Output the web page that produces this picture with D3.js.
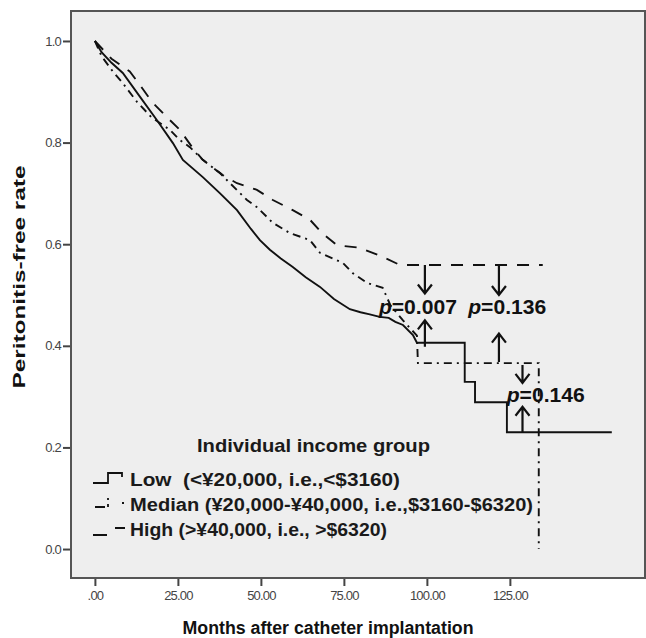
<!DOCTYPE html>
<html>
<head>
<meta charset="utf-8">
<script src="https://cdn.jsdelivr.net/npm/d3@7"></script>
<style>
  body { margin: 0; background: #ffffff; }
  svg { display: block; font-family: 'Liberation Sans', Arial, sans-serif; }
</style>
</head>
<body>
<div id="chart"></div>
<script>
// kaplan-meier curves (months, peritonitis-free rate)
var lowMonths = [0, 2, 5, 8.4, 13.6, 18.7, 23.5, 26.5, 32.5, 37.7, 42.8, 47, 49.7, 52.7, 56, 59.6, 63.5, 67.8, 72, 76.8, 80, 82.8, 85.8, 88.5, 90.5, 92.8, 95.8, 97, 111.4, 111.4, 114.5, 114.5, 124.1, 124.1, 155.7];
var lowRates = [1.0, 0.978, 0.957, 0.937, 0.89, 0.844, 0.799, 0.766, 0.732, 0.70, 0.667, 0.63, 0.608, 0.589, 0.572, 0.555, 0.535, 0.516, 0.492, 0.472, 0.466, 0.462, 0.457, 0.455, 0.447, 0.441, 0.421, 0.406, 0.406, 0.329, 0.329, 0.289, 0.289, 0.23, 0.23];

var medMonths = [0, 2, 5.4, 8.4, 12.7, 17, 22.6, 25.6, 28.6, 32.5, 37.7, 40.7, 45.8, 48.8, 53.6, 58.7, 64.8, 67.8, 74.7, 77.7, 81.9, 86.7, 89, 92.8, 97, 97.3, 133.7, 133.7];
var medRates = [1.0, 0.97, 0.94, 0.917, 0.88, 0.85, 0.825, 0.805, 0.791, 0.766, 0.74, 0.72, 0.687, 0.673, 0.642, 0.622, 0.608, 0.583, 0.563, 0.543, 0.524, 0.514, 0.48, 0.45, 0.42, 0.366, 0.366, 0.0];

var highMonths = [0, 5, 10.5, 13.6, 17.2, 21.7, 25.6, 29.5, 32.5, 38.5, 42.8, 48.8, 53.6, 59.6, 64.8, 68.4, 72.9, 79.8, 86.7, 91.9, 134.9];
var highRates = [1.0, 0.965, 0.94, 0.913, 0.88, 0.85, 0.825, 0.789, 0.766, 0.736, 0.72, 0.707, 0.687, 0.667, 0.648, 0.622, 0.598, 0.593, 0.575, 0.559, 0.559];

var groupNames = ['Low\u00a0\u00a0(<¥20,000, i.e.,<$3160)', 'Median (¥20,000-¥40,000, i.e.,$3160-$6320)', 'High (>¥40,000, i.e., >$6320)'];
var xTicks = [0, 25, 50, 75, 100, 125];
var yTicks = [0.0, 0.2, 0.4, 0.6, 0.8, 1.0];

// log-rank p values with arrow ends (month, rate)
var pLabels = ['0.007', '0.136', '0.146'];
var pTextMonth = [97.3, 124.2, 135.8];
var pTextRate = [0.476, 0.476, 0.303];
var arrowMonth = [99.4, 121.7, 128.8];
var downFrom = [0.559, 0.559, 0.362];
var downTo = [0.503, 0.5, 0.327];
var upFrom = [0.398, 0.368, 0.23];
var upTo = [0.45, 0.424, 0.28];

// svg container
var svgWidth = 646;
var svgHeight = 638;

var frame = { left: 71, right: 645, top: 11, bottom: 578 };

var svg = d3.select('#chart').append('svg')
    .attr('width', svgWidth)
    .attr('height', svgHeight);

var xscale = d3.scaleLinear()
    .domain([-7.2, 165.7])
    .range([frame.left, frame.right]);

var yscale = d3.scaleLinear()
    .domain([-0.057, 1.059])
    .range([frame.bottom, frame.top]);

// plot background
svg.append('rect')
    .attr('x', frame.left)
    .attr('y', frame.top)
    .attr('width', frame.right - frame.left)
    .attr('height', frame.bottom - frame.top)
    .attr('fill', '#eeeeee');

// axes
var leftaxis = d3.axisLeft(yscale)
    .tickValues(yTicks)
    .tickSize(8)
    .tickPadding(2)
    .tickFormat(d3.format('.1f'));

var bottomaxis = d3.axisBottom(xscale)
    .tickValues(xTicks)
    .tickSize(8)
    .tickPadding(5)
    .tickFormat(d => d === 0 ? '.00' : d.toFixed(2));

var yAxisG = svg.append('g')
    .attr('transform', `translate(${frame.left}, 0)`)
    .call(leftaxis);

var xAxisG = svg.append('g')
    .attr('transform', `translate(0, ${frame.bottom})`)
    .call(bottomaxis);

[yAxisG, xAxisG].forEach(function (g) {
    g.select('.domain').remove();
    g.selectAll('.tick line').attr('stroke', '#444').attr('stroke-width', 2);
    g.selectAll('.tick text')
        .attr('fill', '#444')
        .style('font-size', '13px')
        .style('letter-spacing', '-0.8px');
});

// frame
svg.append('rect')
    .attr('x', frame.left)
    .attr('y', frame.top)
    .attr('width', frame.right - frame.left)
    .attr('height', frame.bottom - frame.top)
    .attr('fill', 'none')
    .attr('stroke', '#555')
    .attr('stroke-width', 2);

// curves
var series = [
    { months: lowMonths, rates: lowRates, dash: null },
    { months: medMonths, rates: medRates, dash: '8,5,2,5' },
    { months: highMonths, rates: highRates, dash: '12,10' }
];

var line = d3.line()
    .x(d => xscale(d[0]))
    .y(d => yscale(d[1]));

series.forEach(function (s) {
    svg.append('path')
        .datum(s.months.map((m, i) => [m, s.rates[i]]))
        .attr('d', line)
        .attr('fill', 'none')
        .attr('stroke', '#111')
        .attr('stroke-width', 1.9)
        .attr('stroke-dasharray', s.dash);
});

// arrows
function arrow(x, y1, y2) {
    var px = xscale(x), p1 = yscale(y1), p2 = yscale(y2);
    var dir = p2 > p1 ? 1 : -1;
    svg.append('path')
        .attr('d', `M${px},${p1}L${px},${p2}M${px - 7},${p2 - dir * 9}L${px},${p2}L${px + 7},${p2 - dir * 9}`)
        .attr('fill', 'none')
        .attr('stroke', '#111')
        .attr('stroke-width', 2.2);
}

pLabels.forEach(function (p, i) {
    arrow(arrowMonth[i], downFrom[i], downTo[i]);
    arrow(arrowMonth[i], upFrom[i], upTo[i]);

    var t = svg.append('text')
        .attr('x', xscale(pTextMonth[i]))
        .attr('y', yscale(pTextRate[i]))
        .attr('dy', '0.36em')
        .attr('text-anchor', 'middle')
        .style('font-size', '20px')
        .style('font-weight', 'bold')
        .attr('fill', '#111')
        .attr('textLength', 78)
        .attr('lengthAdjust', 'spacingAndGlyphs');
    t.append('tspan').style('font-style', 'italic').text('p');
    t.append('tspan').text('=' + p);
});

// legend
svg.append('text')
    .attr('x', 197)
    .attr('y', 445)
    .attr('dy', '0.35em')
    .attr('textLength', 233)
    .attr('lengthAdjust', 'spacingAndGlyphs')
    .style('font-size', '19px')
    .style('font-weight', 'bold')
    .attr('fill', '#1a1a1a')
    .text('Individual income group');

var legendWidths = [270, 403, 257];
groupNames.forEach(function (name, i) {
    var cy = 480 + i * 25;
    var sym = svg.append('path')
        .attr('fill', 'none')
        .attr('stroke', '#111')
        .attr('stroke-width', 1.8);
    if (i === 0) sym.attr('d', `M93,${cy + 3}L108,${cy + 3}L108,${cy - 7}L122,${cy - 7}L122,${cy - 3}`);
    if (i === 1) sym.attr('d', `M95,${cy + 2}L105,${cy + 2}M108,${cy + 2}L108,${cy - 1}M108,${cy - 5}L108,${cy - 7}M122,${cy - 2}L124,${cy - 2}`);
    if (i === 2) sym.attr('d', `M93,${cy + 5}L107,${cy + 5}M115,${cy - 2}L125,${cy - 2}`);

    svg.append('text')
        .attr('x', 130)
        .attr('y', cy)
        .attr('dy', '0.35em')
        .attr('textLength', legendWidths[i])
        .attr('lengthAdjust', 'spacingAndGlyphs')
        .style('font-size', '18px')
        .style('font-weight', 'bold')
        .attr('fill', '#1a1a1a')
        .text(name);
});

// axis titles
svg.append('text')
    .attr('x', 328)
    .attr('y', 628)
    .attr('dy', '0.35em')
    .attr('text-anchor', 'middle')
    .attr('textLength', 291)
    .attr('lengthAdjust', 'spacingAndGlyphs')
    .style('font-size', '18px')
    .style('font-weight', 'bold')
    .attr('fill', '#111')
    .text('Months after catheter implantation');

svg.append('text')
    .attr('transform', 'translate(19, 277) rotate(-90)')
    .attr('dy', '0.35em')
    .attr('text-anchor', 'middle')
    .attr('textLength', 223)
    .attr('lengthAdjust', 'spacingAndGlyphs')
    .style('font-size', '17px')
    .style('font-weight', 'bold')
    .attr('fill', '#111')
    .text('Peritonitis-free rate');
</script>
</body>
</html>
